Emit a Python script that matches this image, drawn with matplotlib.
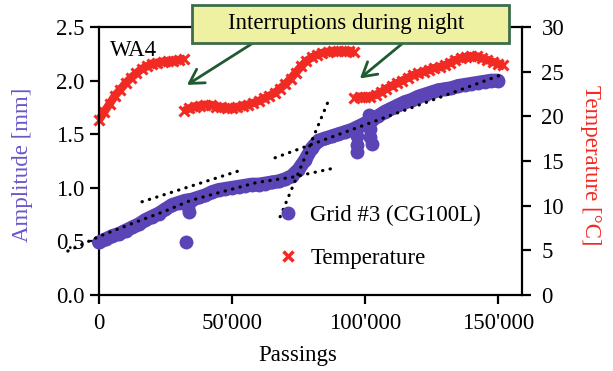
import matplotlib
matplotlib.use("Agg")
import matplotlib.pyplot as plt
from matplotlib.lines import Line2D
from matplotlib.patches import Rectangle

plt.rcParams["font.family"] = ["Liberation Serif", "DejaVu Serif"]
plt.rcParams["font.size"] = 16.5

# --- amplitude of grid #3 (mm) vs. passings -------------------------------
amp_x = [
    0, 2500, 5000, 7500, 10000, 12500, 15000, 17500, 20000, 22500,
    25000, 27500, 30000, 32500, 35000, 37500, 40000, 42500, 45000, 47500,
    50000, 52500, 55000, 57500, 60000, 62500, 65000, 67500, 70000, 72500,
    75000, 77500, 80000, 82500, 85000, 87500, 90000, 92500, 95000, 97500,
    100000, 102500, 105000, 107500, 110000, 112500, 115000, 117500, 120000,
    122500, 125000, 127500, 130000, 132500, 135000, 137500, 140000, 142500,
    145000, 147500, 150000,
]
amp_y = [
    0.49, 0.52, 0.55, 0.57, 0.60, 0.63, 0.66, 0.70, 0.73, 0.76,
    0.80, 0.84, 0.86, 0.88, 0.89, 0.91, 0.93, 0.96, 0.98, 0.99,
    1.00, 1.01, 1.02, 1.03, 1.03, 1.04, 1.05, 1.06, 1.08, 1.11,
    1.17, 1.26, 1.37, 1.44, 1.46, 1.48, 1.50, 1.52, 1.54, 1.57,
    1.60, 1.63, 1.67, 1.71, 1.74, 1.77, 1.80, 1.82, 1.85,
    1.87, 1.89, 1.91, 1.92, 1.93, 1.95, 1.96, 1.97, 1.98,
    1.99, 2.00, 2.00,
]
# readings right after the two night interruptions
restart_x = [32700, 33500, 34000, 97000, 97000, 97000, 101500, 102000, 102000, 102500]
restart_y = [0.49, 0.82, 0.77, 1.48, 1.40, 1.33, 1.68, 1.55, 1.47, 1.41]

# --- temperature (deg C), three measuring days -------------------------------
temp_x1 = list(range(0, 32001, 2000))
temp_y1 = [19.6, 20.5, 21.4, 22.3, 23.0, 23.7, 24.3, 24.8, 25.3, 25.6,
           25.9, 26.0, 26.1, 26.2, 26.2, 26.3, 26.4]
temp_x2 = list(range(32000, 96001, 2000))
temp_y2 = [20.6, 20.9, 21.1, 21.2, 21.3, 21.3, 21.1, 21.0, 20.9, 20.9,
           21.0, 21.2, 21.3, 21.5, 21.7, 22.0, 22.3, 22.6, 23.1, 23.6,
           24.2, 24.9, 25.6, 26.2, 26.6, 26.9, 27.1, 27.2, 27.3, 27.3,
           27.3, 27.3, 27.2]
temp_x3 = list(range(96000, 152001, 2000))
temp_y3 = [22.0, 22.2, 22.2, 22.2, 22.4, 22.7, 23.1, 23.4, 23.7, 24.0,
           24.3, 24.6, 24.8, 25.0, 25.2, 25.4, 25.5, 25.7, 26.0, 26.3,
           26.5, 26.6, 26.7, 26.7, 26.5, 26.3, 26.1, 25.9, 25.7]

# --- fitted trend lines (dotted) ------------------------------------------
fit1_x = [-11700, 400, 12800, 25600, 34200, 44400, 51900, 59400, 72900, 89500]
fit1_y = [0.41, 0.55, 0.67, 0.79, 0.88, 0.95, 1.00, 1.05, 1.10, 1.19]
fit2_x = [16200, 54100]
fit2_y = [0.87, 1.17]
fit3_x = [68100, 86900]
fit3_y = [0.73, 1.85]
fit4_x = [66200, 150800]
fit4_y = [1.28, 2.05]

BLUE = "#5a44b6"
RED = "#f22a24"
GREEN = "#1f5a30"
BG = "#fbfcfe"

fig = plt.figure(figsize=(6.13, 3.71), dpi=100)
ax = fig.add_axes([67 / 613, 1 - 295 / 371, 455 / 613, 268 / 371])
ax2 = ax.twinx()

# dense logger readings: thick stroke under the markers gives the band look
for tx, ty in [(temp_x1, temp_y1), (temp_x2, temp_y2), (temp_x3, temp_y3)]:
    ax2.plot(tx, ty, "-", color=RED, lw=6, solid_capstyle="butt")
    ax2.plot(tx, ty, "x", color=RED, ms=7.5, mew=2.2)

ax.plot(amp_x, amp_y, "-", color=BLUE, lw=10, solid_capstyle="round", zorder=3)
ax.plot(amp_x, amp_y, "o", color=BLUE, ms=10, mew=0, zorder=3)
ax.plot(restart_x, restart_y, "o", color=BLUE, ms=10, mew=0, zorder=3)

dot = dict(color="black", lw=2.3, ls=(0, (0.1, 2.3)),
           dash_capstyle="round", zorder=4, clip_on=False)
for fx, fy in [(fit1_x, fit1_y), (fit2_x, fit2_y), (fit3_x, fit3_y), (fit4_x, fit4_y)]:
    ax.plot(fx, fy, **dot)

# amplitude axes above the twin so the dotted fits stay on top
ax.set_zorder(ax2.get_zorder() + 1)
ax.patch.set_visible(False)
ax2.patch.set_facecolor(BG)

ax.set_xlim(-12000, 159000)
ax.set_ylim(0, 2.5)
ax2.set_ylim(0, 30)

ax.set_xticks([0, 50000, 100000, 150000])
ax.set_xticklabels(["0", "50'000", "100'000", "150'000"])
ax.set_yticks([0, 0.5, 1.0, 1.5, 2.0, 2.5])
ax.set_yticklabels(["0.0", "0.5", "1.0", "1.5", "2.0", "2.5"])
ax2.set_yticks([0, 5, 10, 15, 20, 25, 30])

for a in (ax, ax2):
    for s in a.spines.values():
        s.set_linewidth(1.6)
ax.spines["left"].set_position(("data", 0))
ax.spines["bottom"].set_bounds(0, 159000)
ax.spines["top"].set_bounds(0, 159000)
ax2.spines["left"].set_visible(False)
ax2.spines["bottom"].set_visible(False)
ax2.spines["top"].set_visible(False)
ax.spines["right"].set_visible(False)

ax.tick_params(axis="x", direction="out", length=6.5, width=1.6, pad=6.5)
ax.tick_params(axis="y", direction="out", length=6.5, width=1.6, pad=3.6)
ax2.tick_params(axis="y", direction="out", length=6.5, width=1.6, pad=7.5)

fig.text(23 / 613, 1 - 165 / 371, "Amplitude [mm]", color="#6a56c8",
         rotation=90, ha="center", va="center")
fig.text(590 / 613, 1 - 165 / 371, "Temperature [°C]", color=RED,
         rotation=270, ha="center", va="center")
fig.text(298 / 613, 1 - 355 / 371, "Passings", ha="center", va="center")
ax.text(4000, 2.28, "WA4", ha="left", va="center")

handles = [
    Line2D([], [], ls="", marker="o", color=BLUE, ms=10, mew=0),
    Line2D([], [], ls="", marker="x", color=RED, ms=7, mew=2.5),
]
ax.legend(handles, ["Grid #3 (CG100L)", "Temperature"], frameon=False,
          loc="upper left", bbox_to_anchor=(277 / 613, 1 - 205 / 371),
          bbox_transform=fig.transFigure, handlelength=1.0,
          handletextpad=0.45, labelspacing=0.95, borderaxespad=0, borderpad=0)

# callout box with the two arrows
fig.patches.append(Rectangle((192 / 613, 1 - 43 / 371), 317 / 613, 38 / 371,
                             transform=fig.transFigure, facecolor="#eef0a2",
                             edgecolor="#3d6b4c", lw=2, zorder=10))
fig.text(346 / 613, 1 - 23 / 371, "Interruptions during night",
         ha="center", va="center", zorder=11)
arrow = dict(arrowstyle="->,head_length=0.6,head_width=0.35", lw=2, color=GREEN,
             shrinkA=0, shrinkB=0)
ax.annotate("", xy=(33100, 1.96), xycoords="data",
            xytext=(253 / 613, 1 - 43 / 371), textcoords="figure fraction",
            arrowprops=arrow, annotation_clip=False)
ax.annotate("", xy=(98100, 2.02), xycoords="data",
            xytext=(403 / 613, 1 - 43 / 371), textcoords="figure fraction",
            arrowprops=arrow, annotation_clip=False)

fig.savefig("out.png", dpi=100)
